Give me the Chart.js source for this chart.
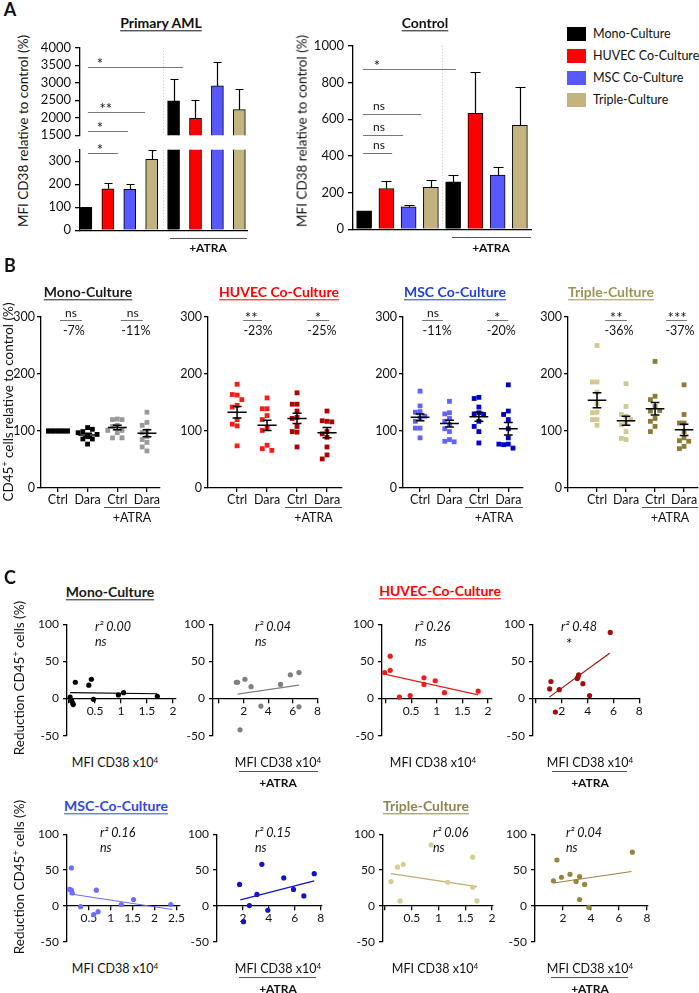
<!DOCTYPE html>
<html>
<head>
<meta charset="utf-8">
<title>CD38 / CD45 culture figure</title>
<script src="https://cdn.jsdelivr.net/npm/chart.js@4.4.0/dist/chart.umd.min.js"></script>
<style>
  html, body { margin: 0; padding: 0; background: #fff; }
  body { position: relative; width: 699px; height: 993px; overflow: hidden; font-family: Lato, "Open Sans", sans-serif; color: #111; }
  canvas { position: absolute; }
  .t { position: absolute; white-space: nowrap; transform: translate(-50%, -50%); line-height: 1.1; }
  .ttl { font-weight: 700; font-size: 14px; text-decoration: underline; text-underline-offset: 2px; }
  .hl { position: absolute; height: 0; border-top: 1px solid #666; }
  .sq { position: absolute; width: 19px; height: 14px; }
  sup { font-size: 0.65em; vertical-align: 0.5em; line-height: 0; }
</style>
</head>
<body>
<script>
(function () {
  const FONT = 'Lato, "Open Sans", sans-serif';

  // ── Panel A: MFI CD38 relative to control (%) ─────────────────────────────
  const A_CULTURES  = ['Mono-Culture', 'HUVEC Co-Culture', 'MSC Co-Culture', 'Triple-Culture'];
  const A_COLORS    = ['#000000', '#ff0000', '#5858ff', '#c3b47f'];
  const A_AML_MEAN  = [100, 180, 178, 308, 2480, 1980, 2910, 2230];
  const A_AML_ERR   = [0, 25, 23, 40, 640, 540, 690, 600];
  const A_CTRL_MEAN = [100, 222, 122, 228, 258, 632, 295, 567];
  const A_CTRL_ERR  = [0, 40, 8, 40, 38, 225, 45, 210];

  // ── Panel B: CD45+ cells relative to control (%) ──────────────────────────
  const B_TICKS = ['Ctrl', 'Dara', 'Ctrl', 'Dara'];
  const B_MONO = [
    [100, 100, 100, 100, 100, 100, 100, 100, 100, 100],
    [77, 86, 86, 92, 99, 106, 103, 97, 94, 90],
    [121, 120, 120, 110, 108, 101, 97, 101, 88, 88],
    [133, 115, 110, 100, 97, 90, 85, 80, 72, 65],
  ];
  const B_MONO_MEAN = [100, 93, 106, 96];
  const B_MONO_SEM  = [0, 3, 4, 6];
  const B_HUVEC = [
    [182, 163, 164, 155, 145, 142, 120, 112, 109, 74],
    [158, 139, 139, 127, 120, 105, 101, 75, 69, 66],
    [167, 147, 147, 135, 124, 122, 108, 98, 99, 72],
    [135, 117, 118, 116, 99, 95, 89, 72, 58, 51],
  ];
  const B_HUVEC_MEAN = [133, 110, 122, 97];
  const B_HUVEC_SEM  = [10, 9, 9, 9];
  const B_MSC = [
    [170, 144, 134, 133, 126, 123, 117, 105, 105, 88],
    [152, 132, 130, 122, 117, 111, 104, 99, 85, 82, 81],
    [159, 157, 142, 132, 130, 129, 117, 108, 99, 79],
    [181, 135, 129, 120, 104, 88, 77, 76, 70, 77],
  ];
  const B_MSC_MEAN = [124, 113, 125, 104];
  const B_MSC_SEM  = [6, 6, 8, 11];
  const B_TRI = [
    [250, 186, 186, 168, 148, 133, 132, 120, 120, 110],
    [183, 143, 126, 129, 120, 114, 111, 99, 85, 87],
    [222, 161, 155, 143, 135, 136, 122, 117, 108, 99],
    [181, 129, 114, 114, 99, 88, 83, 73, 69, 82],
  ];
  const B_TRI_MEAN = [154, 118, 139, 102];
  const B_TRI_SEM  = [13, 8, 11, 10];
  const B_SIG = [['ns', 'ns'], ['**', '*'], ['ns', '*'], ['**', '***']];
  const B_PCT = [['-7%', '-11%'], ['-23%', '-25%'], ['-11%', '-20%'], ['-36%', '-37%']];

  // ── Panel C: reduction CD45+ cells (%) vs MFI CD38 x10^4 ──────────────────
  const C_MONO_X = [0.02, 0.05, 0.07, 0.08, 0.12, 0.38, 0.43, 0.47, 0.95, 1.05, 1.7];
  const C_MONO_Y = [2, -3, -6, -8, 22, 18, 26, -1, 5, 8, 3];
  const C_MONO_FIT_X = [0.02, 1.7], C_MONO_FIT_Y = [8, 6.5];
  const C_MONO_ATRA_X = [1.4, 1.5, 2.1, 2.6, 3.4, 5.0, 5.8, 6.5, 6.5, 1.7];
  const C_MONO_ATRA_Y = [22, 22, 26, 16, -10, 19, 32, 35, -11, -42];
  const C_MONO_ATRA_FIT_X = [1.5, 6.5], C_MONO_ATRA_FIT_Y = [6, 18];
  const C_HUVEC_X = [-0.02, 0.09, 0.09, 0.27, 0.48, 0.75, 0.75, 0.97, 1.15, 1.81];
  const C_HUVEC_Y = [35, 57, 38, 2, 4, 28, 19, 24, 8, 10];
  const C_HUVEC_FIT_X = [-0.02, 1.81], C_HUVEC_FIT_Y = [33, 5];
  const C_HUVEC_ATRA_X = [1.06, 1.16, 1.5, 1.8, 3.2, 3.25, 3.3, 3.63, 4.15, 5.75];
  const C_HUVEC_ATRA_Y = [13, 23, -18, 12, 27, 29, 32, 20, 4, 89];
  const C_HUVEC_ATRA_FIT_X = [1.03, 5.7], C_HUVEC_ATRA_FIT_Y = [2, 61];
  const C_MSC_X = [0.06, 0.1, 0.1, 0.12, 0.31, 0.61, 0.67, 0.71, 1.24, 1.52, 2.37];
  const C_MSC_Y = [23, 22, 53, 18, -1, -12, 22, -8, 2, 9, 2];
  const C_MSC_FIT_X = [0.05, 2.4], C_MSC_FIT_Y = [17, -5];
  const C_MSC_ATRA_X = [1.74, 2.05, 2.5, 3.08, 3.46, 3.92, 5.15, 5.9, 6.7, 7.5];
  const C_MSC_ATRA_Y = [30, -22, 0.5, 16, 58, -6, 39, 23, 14, 45];
  const C_MSC_ATRA_FIT_X = [1.8, 7.5], C_MSC_ATRA_FIT_Y = [8.5, 35];
  const C_TRI_X = [0.11, 0.23, 0.28, 0.34, 0.86, 1.17, 1.64, 1.64, 1.72];
  const C_TRI_Y = [34, 54, 7, 58, 85, 33, 68, 26, 7];
  const C_TRI_FIT_X = [0.11, 1.72], C_TRI_FIT_Y = [45, 27];
  const C_TRI_ATRA_X = [1.32, 1.57, 1.89, 2.5, 2.94, 3.19, 3.19, 3.55, 3.85, 6.96];
  const C_TRI_ATRA_Y = [35, 64, 40, 44, 34, 41, 9, 30, -2, 75];
  const C_TRI_ATRA_FIT_X = [1.32, 6.9], C_TRI_ATRA_FIT_Y = [32, 48];
  const C_R2 = [['0.00', 'ns'], ['0.04', 'ns'], ['0.26', 'ns'], ['0.48', '*'],
                ['0.16', 'ns'], ['0.15', 'ns'], ['0.06', 'ns'], ['0.04', 'ns']];

  // ── helpers ───────────────────────────────────────────────────────────────
  const PL = 44, PR = 6, PT = 10;

  function text(html, x, y, css, left) {
    const d = document.createElement('div');
    d.className = 't';
    d.innerHTML = html;
    d.style.cssText += `left:${x}px;top:${y}px;` + (css || '');
    if (left) d.style.transform = 'translate(0,-50%)';
    document.body.appendChild(d);
    return d;
  }
  function vtext(html, x, y, css) {
    const d = text(html, x, y, css);
    d.style.transform = 'translate(-50%,-50%) rotate(-90deg)';
    return d;
  }
  function hline(x1, x2, y, color) {
    const d = document.createElement('div');
    d.className = 'hl';
    d.style.cssText += `left:${x1}px;top:${y}px;width:${x2 - x1}px;border-top-color:${color || '#666'};`;
    document.body.appendChild(d);
  }
  function sigCss(s) { return s === 'ns' ? 'font-size:12px;' : 'font-size:15px;'; }

  function canvasFor(box, padB) {
    const c = document.createElement('canvas');
    const w = box.x1 - box.x0 + PL + PR;
    const h = box.yBot - box.yTop + PT + padB;
    c.width = w; c.height = h;
    Object.assign(c.style, { left: (box.x0 - PL) + 'px', top: (box.yTop - PT) + 'px', width: w + 'px', height: h + 'px' });
    document.body.appendChild(c);
    return c;
  }

  function pagePt(chart, xv, yv) {
    const c = chart.canvas;
    return { x: parseFloat(c.style.left) + chart.scales.x.getPixelForValue(xv),
             y: parseFloat(c.style.top) + chart.scales.y.getPixelForValue(yv) };
  }

  function yAxis(min, max, step, size, tick, pad) {
    return {
      min, max,
      border: { color: '#000', width: 1.3 },
      grid: { drawOnChartArea: false, color: '#000', lineWidth: 1.3, tickLength: tick },
      ticks: { stepSize: step, includeBounds: false, autoSkip: false, color: '#111', padding: pad,
               font: { family: FONT, size }, callback: v => String(v) },
      afterFit: s => { s.width = PL; },
    };
  }

  function base(padB) {
    return {
      responsive: false, animation: false, events: [],
      layout: { padding: { top: PT, right: PR, bottom: padB, left: 0 } },
      plugins: { legend: { display: false }, tooltip: { enabled: false } },
    };
  }

  function errBars(mean, err, cap) {
    return {
      id: 'errbars',
      afterDatasetsDraw(chart) {
        const { ctx, chartArea: a, scales: { x, y } } = chart;
        ctx.save();
        ctx.beginPath(); ctx.rect(a.left, a.top - 1, a.right - a.left, a.bottom - a.top + 1); ctx.clip();
        ctx.strokeStyle = '#000'; ctx.lineWidth = 1.2;
        mean.forEach((m, i) => {
          if (!err[i]) return;
          const px = Math.round(x.getPixelForValue(i)) + 0.5;
          const p0 = y.getPixelForValue(m), p1 = Math.round(y.getPixelForValue(m + err[i])) + 0.5;
          ctx.beginPath();
          ctx.moveTo(px, p0); ctx.lineTo(px, p1);
          ctx.moveTo(px - cap, p1); ctx.lineTo(px + cap, p1);
          ctx.stroke();
        });
        ctx.restore();
      },
    };
  }

  function sigLines(lines, sep) {
    return {
      id: 'sig',
      afterDraw(chart) {
        const { ctx, chartArea: a, scales: { x, y } } = chart;
        ctx.save();
        if (sep !== undefined) {
          const sx = Math.round(x.getPixelForValue(sep)) + 0.5;
          ctx.strokeStyle = '#c4c4c4'; ctx.lineWidth = 1; ctx.setLineDash([1, 2]);
          ctx.beginPath(); ctx.moveTo(sx, a.top); ctx.lineTo(sx, a.bottom); ctx.stroke();
          ctx.setLineDash([]);
        }
        ctx.strokeStyle = '#777'; ctx.lineWidth = 1;
        lines.forEach(l => {
          const py = Math.round(y.getPixelForValue(l[2])) + 0.5;
          ctx.beginPath(); ctx.moveTo(x.getPixelForValue(l[0]), py); ctx.lineTo(x.getPixelForValue(l[1]), py); ctx.stroke();
        });
        ctx.restore();
      },
    };
  }

  function meanSem(mean, sem) {
    return {
      id: 'meansem',
      afterDatasetsDraw(chart) {
        const { ctx, scales: { x, y } } = chart;
        ctx.save(); ctx.strokeStyle = '#000'; ctx.lineWidth = 1.5;
        mean.forEach((m, i) => {
          const px = x.getPixelForValue(i);
          const w = x.getPixelForValue(i + 0.32) - px, c = x.getPixelForValue(i + 0.15) - px;
          const pm = y.getPixelForValue(m);
          ctx.beginPath(); ctx.moveTo(px - w, pm); ctx.lineTo(px + w, pm);
          if (sem[i]) {
            const p1 = y.getPixelForValue(m + sem[i]), p2 = y.getPixelForValue(m - sem[i]);
            ctx.moveTo(px, p1); ctx.lineTo(px, p2);
            ctx.moveTo(px - c, p1); ctx.lineTo(px + c, p1);
            ctx.moveTo(px - c, p2); ctx.lineTo(px + c, p2);
          }
          ctx.stroke();
        });
        ctx.restore();
      },
    };
  }

  // spread equal-ish values sideways so the squares do not sit on each other
  function swarm(vals, g) {
    const placed = [], offs = [0, -0.16, 0.16, -0.32, 0.32];
    return vals.map(v => {
      let best = 0, bestN = Infinity;
      for (const o of offs) {
        const n = placed.filter(p => Math.abs(p.y - v) < 10 && Math.abs(p.o - o) < 0.15).length;
        if (n < bestN) { bestN = n; best = o; }
        if (n === 0) break;
      }
      placed.push({ o: best, y: v });
      return { x: g + best, y: v };
    });
  }

  // ── Panel A ───────────────────────────────────────────────────────────────
  const BAR_COLORS = A_COLORS.concat(A_COLORS);

  function barChart(box, ymin, ymax, step, xmin, xmax, mean, err, thick, cap, lines, showX) {
    const cv = canvasFor(box, 10);
    return new Chart(cv, {
      type: 'bar',
      data: { datasets: [{ data: mean.map((v, i) => ({ x: i, y: v })), backgroundColor: BAR_COLORS,
                           borderColor: '#000', borderWidth: 1, barThickness: thick }] },
      options: Object.assign(base(10), {
        scales: {
          x: { type: 'linear', min: xmin, max: xmax, offset: false, display: showX,
               ticks: { display: false }, grid: { display: false, offset: false },
               border: { color: '#000', width: 1.3 }, afterFit: s => { s.height = 0; } },
          y: yAxis(ymin, ymax, step, 13, 5, 4),
        },
      }),
      plugins: [errBars(mean, err, cap), sigLines(lines, 3.5)],
    });
  }

  const A_AML_SIG  = [[0.09, 4.44, 3450, '*', 0.64], [0.09, 2.7, 2160, '**', 0.91],
                      [0.09, 1.92, 1610, '*', 0.64], [0.09, 1.46, 337, '*', 0.64]];
  const A_CTRL_SIG = [[-0.05, 4.13, 872, '*', 0.58], [-0.05, 2.56, 626, 'ns', 0.67],
                      [-0.05, 1.75, 513, 'ns', 0.67], [-0.05, 1.26, 417, 'ns', 0.67]];

  const amlTop = barChart({ x0: 80, x1: 247, yTop: 46, yBot: 137 }, 1500, 4000, 500, -0.27, 7.35,
                          A_AML_MEAN, A_AML_ERR, 12, 4, A_AML_SIG.filter(s => s[2] > 350), false);
  const amlBot = barChart({ x0: 80, x1: 247, yTop: 148, yBot: 232 }, 0, 350, 100, -0.27, 7.35,
                          A_AML_MEAN, A_AML_ERR, 12, 4, A_AML_SIG.filter(s => s[2] <= 350), true);
  const ctrlA  = barChart({ x0: 353, x1: 531, yTop: 44, yBot: 231 }, 0, 1000, 200, -0.5, 7.5,
                          A_CTRL_MEAN, A_CTRL_ERR, 15, 5, A_CTRL_SIG, true);

  function sigText(chart, s) {
    const p = pagePt(chart, s[4], s[2]);
    text(s[3], p.x, p.y + (s[3] === 'ns' ? -8 : -4), sigCss(s[3]));
  }
  A_AML_SIG.forEach(s => sigText(s[2] > 350 ? amlTop : amlBot, s));
  A_CTRL_SIG.forEach(s => sigText(ctrlA, s));

  text('A', 10, 10, 'font-weight:700;font-size:18px;');
  text('Primary AML', 161, 23, '').className += ' ttl';
  text('Control', 425, 23, '').className += ' ttl';
  vtext('MFI CD38 relative to control (%)', 23, 131, 'font-size:13.5px;');
  vtext('MFI CD38 relative to control (%)', 302, 131, 'font-size:13.5px;');
  hline(170, 247, 238, '#555');
  text('+ATRA', 208, 248, 'font-weight:700;font-size:12px;');
  hline(452, 531, 237, '#555');
  text('+ATRA', 491, 248, 'font-weight:700;font-size:12px;');

  A_CULTURES.forEach((name, i) => {
    const sq = document.createElement('div');
    sq.className = 'sq';
    sq.style.cssText += `left:567px;top:${27 + i * 22}px;background:${A_COLORS[i]};`;
    document.body.appendChild(sq);
    text(name, 593, 34 + i * 22, 'font-size:12.5px;', true);
  });

  // ── Panel B ───────────────────────────────────────────────────────────────
  function panelB(box, xmin, xmax, groups, colors, mean, sem, ann) {
    const PB = 22;
    const cv = canvasFor(box, PB);
    const lines = ann.map(a => [a[0], a[1], 295]);
    return new Chart(cv, {
      type: 'scatter',
      data: { datasets: groups.map((vals, g) => ({ data: swarm(vals, g), pointStyle: 'rect', pointRadius: 3.4,
                                                   pointBackgroundColor: colors[g], pointBorderWidth: 0 })) },
      options: Object.assign(base(0), {
        scales: {
          x: { type: 'linear', min: xmin, max: xmax, offset: false,
               border: { color: '#000', width: 1.3 },
               grid: { drawOnChartArea: false, color: '#000', lineWidth: 1.3, tickLength: 4 },
               ticks: { stepSize: 1, includeBounds: false, padding: 0, autoSkip: false, maxRotation: 0,
                        color: '#111', font: { family: FONT, size: 12.5 }, callback: v => B_TICKS[v] ?? '' },
               afterFit: s => { s.height = PB; } },
          y: yAxis(0, 300, 100, 12.5, 4, 2),
        },
      }),
      plugins: [meanSem(mean, sem), sigLines(lines)],
    });
  }

  const B_PANELS = [
    { box: { x0: 41, x1: 160, yTop: 317, yBot: 488 }, xr: [-0.57, 3.44], d: B_MONO, m: B_MONO_MEAN, s: B_MONO_SEM,
      col: ['#000000', '#000000', '#9a9a9a', '#9a9a9a'], ann: [[0.07, 0.81, 0.44, 0.54], [2.12, 2.86, 2.52, 2.63]] },
    { box: { x0: 208, x1: 342, yTop: 317, yBot: 488 }, xr: [-0.97, 3.5], d: B_HUVEC, m: B_HUVEC_MEAN, s: B_HUVEC_SEM,
      col: ['#ff1a1a', '#ff1a1a', '#b00000', '#b00000'], ann: [[0.2, 0.83, 0.47, 0.7], [2.33, 3.07, 2.7, 2.83]] },
    { box: { x0: 403, x1: 523, yTop: 317, yBot: 488 }, xr: [-0.58, 3.5], d: B_MSC, m: B_MSC_MEAN, s: B_MSC_SEM,
      col: ['#6262ff', '#6262ff', '#0000cc', '#0000cc'], ann: [[0.07, 0.78, 0.44, 0.58], [2.28, 3.0, 2.62, 2.76]] },
    { box: { x0: 568, x1: 698, yTop: 317, yBot: 488 }, xr: [-1.0, 3.48], d: B_TRI, m: B_TRI_MEAN, s: B_TRI_SEM,
      col: ['#d5c792', '#d5c792', '#8e7c36', '#8e7c36'], ann: [[0.28, 1.03, 0.66, 0.76], [2.38, 3.1, 2.76, 2.86]] },
  ];
  B_PANELS.forEach((p, k) => {
    const ch = panelB(p.box, p.xr[0], p.xr[1], p.d, p.col, p.m, p.s, p.ann);
    p.ann.forEach((a, j) => {
      const sig = B_SIG[k][j];
      const ps = pagePt(ch, a[2], 295), pp = pagePt(ch, a[3], 295);
      text(sig, ps.x, ps.y + (sig === 'ns' ? -7 : -3), sigCss(sig));
      text(B_PCT[k][j], pp.x, pp.y + 11, 'font-size:12.5px;');
    });
  });

  text('B', 10, 266, 'font-weight:700;font-size:18px;');
  text('Mono-Culture', 88, 292, 'color:#1a1a1a;').className += ' ttl';
  text('HUVEC Co-Culture', 279, 292, 'color:#ff0000;').className += ' ttl';
  text('MSC Co-Culture', 455, 292, 'color:#1f3fd6;').className += ' ttl';
  text('Triple-Culture', 611, 292, 'color:#9c9354;').className += ' ttl';
  vtext('CD45<sup>+</sup> cells relative to control (%)', 8, 402, 'font-size:13.5px;');
  [[104, 160], [285, 342], [465, 523], [642, 698]].forEach(([a, b]) => {
    hline(a, b, 507, '#555');
    text('+ATRA', (a + b) / 2, 518, 'font-size:12.5px;');
  });

  // ── Panel C ───────────────────────────────────────────────────────────────
  function panelC(box, xmin, xmax, step, xs, ys, fx, fy, col, lineCol) {
    const cv = canvasFor(box, 10);
    return new Chart(cv, {
      type: 'scatter',
      data: { datasets: [
        { data: xs.map((x, i) => ({ x, y: ys[i] })), pointRadius: 2.6, pointBackgroundColor: col, pointBorderWidth: 0 },
        { data: fx.map((x, i) => ({ x, y: fy[i] })), showLine: true, pointRadius: 0, borderColor: lineCol, borderWidth: 1.2 },
      ] },
      options: Object.assign(base(10), {
        scales: {
          x: { type: 'linear', position: { y: 0 }, min: xmin, max: xmax, offset: false,
               border: { color: '#000', width: 1.3 },
               grid: { drawOnChartArea: false, color: '#000', lineWidth: 1.3, tickLength: 4 },
               ticks: { stepSize: step, includeBounds: false, padding: 1, autoSkip: false, maxRotation: 0,
                        color: '#111', font: { family: FONT, size: 12 }, callback: v => (v === 0 ? '' : String(v)) },
               afterFit: s => { s.height = 0; } },
          y: yAxis(-50, 100, 50, 12, 4, 4),
        },
      }),
    });
  }

  const R1 = { yTop: 623, yBot: 737 }, R2 = { yTop: 833, yBot: 943 };
  const C_PANELS = [
    [{ x0: 67, x1: 176, ...R1 }, -0.04, 2.06, 0.5, C_MONO_X, C_MONO_Y, C_MONO_FIT_X, C_MONO_FIT_Y, '#000000', '#000000'],
    [{ x0: 213, x1: 318, ...R1 }, -0.5, 8.05, 2, C_MONO_ATRA_X, C_MONO_ATRA_Y, C_MONO_ATRA_FIT_X, C_MONO_ATRA_FIT_Y, '#7f7f7f', '#7f7f7f'],
    [{ x0: 382, x1: 492, ...R1 }, -0.07, 2.08, 0.5, C_HUVEC_X, C_HUVEC_Y, C_HUVEC_FIT_X, C_HUVEC_FIT_Y, '#ee1c1c', '#ee1c1c'],
    [{ x0: 533, x1: 640, ...R1 }, -0.23, 8.05, 2, C_HUVEC_ATRA_X, C_HUVEC_ATRA_Y, C_HUVEC_ATRA_FIT_X, C_HUVEC_ATRA_FIT_Y, '#a30e0e', '#a30e0e'],
    [{ x0: 67, x1: 180, ...R2 }, 0, 2.57, 0.5, C_MSC_X, C_MSC_Y, C_MSC_FIT_X, C_MSC_FIT_Y, '#6d6dff', '#6d6dff'],
    [{ x0: 217, x1: 322, ...R2 }, 0, 8.1, 2, C_MSC_ATRA_X, C_MSC_ATRA_Y, C_MSC_ATRA_FIT_X, C_MSC_ATRA_FIT_Y, '#1212c8', '#1212c8'],
    [{ x0: 383, x1: 493, ...R2 }, -0.04, 2.02, 0.5, C_TRI_X, C_TRI_Y, C_TRI_FIT_X, C_TRI_FIT_Y, '#d8cb96', '#bcae70'],
    [{ x0: 535, x1: 648, ...R2 }, 0, 8.08, 2, C_TRI_ATRA_X, C_TRI_ATRA_Y, C_TRI_ATRA_FIT_X, C_TRI_ATRA_FIT_Y, '#978540', '#978540'],
  ];
  const R2_OFF = [28, 42, 33, 28, 33, 38, 50, 31];
  const MFI_X  = [115, 278, 433, 590, 115, 278, 435, 590];
  const ATRA_UNDERLINE = [null, [239, 318], null, [552, 627], null, [239, 316], null, [551, 628]];
  C_PANELS.forEach((p, k) => {
    panelC(...p);
    const b = p[0], row1 = k < 4;
    const ry = b.yTop + (row1 ? 4 : 0);
    const sig = C_R2[k][1];
    text(`r² ${C_R2[k][0]}`, b.x0 + R2_OFF[k], ry, 'font-style:italic;font-size:12.5px;', true);
    text(sig, b.x0 + R2_OFF[k] + (sig === '*' ? 5 : 0), ry + (sig === '*' ? 16 : 15),
         sig === '*' ? 'font-size:15px;' : 'font-style:italic;font-size:12.5px;', true);
    const my = row1 ? 763 : 969;
    text('MFI CD38 x10<sup>4</sup>', MFI_X[k], my, 'font-size:12.5px;');
    if (ATRA_UNDERLINE[k]) {
      hline(ATRA_UNDERLINE[k][0], ATRA_UNDERLINE[k][1], my + 8, '#555');
      text('+ATRA', MFI_X[k], my + 20, 'font-weight:700;font-size:12px;');
    }
  });

  text('C', 10, 578, 'font-weight:700;font-size:18px;');
  text('Mono-Culture', 110, 592, 'color:#1a1a1a;').className += ' ttl';
  text('HUVEC-Co-Culture', 440, 591, 'color:#ff0000;').className += ' ttl';
  text('MSC-Co-Culture', 116, 806, 'color:#3048e0;').className += ' ttl';
  text('Triple-Culture', 426, 806, 'color:#8c8650;').className += ' ttl';
  vtext('Reduction CD45<sup>+</sup> cells (%)', 19, 678, 'font-size:13.5px;');
  vtext('Reduction CD45<sup>+</sup> cells (%)', 19, 877, 'font-size:13.5px;');
})();
</script>
</body>
</html>
